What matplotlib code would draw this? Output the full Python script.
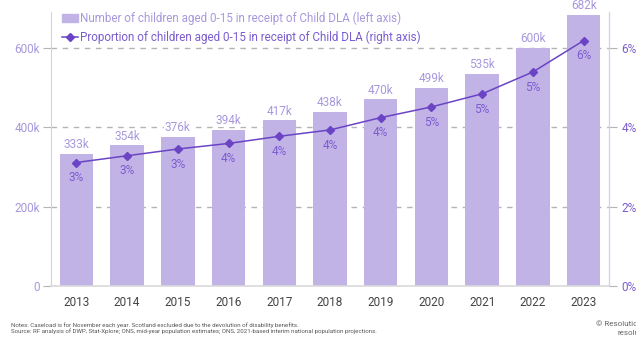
import matplotlib
matplotlib.use("Agg")
import matplotlib.pyplot as plt
from matplotlib.lines import Line2D
from matplotlib.patches import Patch
import numpy as np

plt.rcParams['font.family'] = ['Roboto', 'DejaVu Sans']

years = ['2013', '2014', '2015', '2016', '2017', '2018', '2019', '2020', '2021', '2022', '2023']
children = [333, 354, 376, 394, 417, 438, 470, 499, 535, 600, 682]  # thousands
proportion = [3.11, 3.28, 3.45, 3.59, 3.77, 3.93, 4.24, 4.51, 4.84, 5.39, 6.18]  # percent
left_ticks = [0, 200, 400, 600]
left_ticklabels = ['0', '200k', '400k', '600k']
right_ticks = [0, 2, 4, 6]
right_ticklabels = ['0%', '2%', '4%', '6%']

bar_col = '#c1b3e6'
line_col = '#6a44c4'
light_txt = '#a898dd'
dark_txt = '#7a5cd0'
spine_col = '#d6cdf0'

fig = plt.figure(figsize=(6.36, 3.4), dpi=100)
ax = fig.add_axes([51 / 636, 1 - 286 / 340, (609 - 51) / 636, (286 - 12) / 340])
x = np.arange(len(years))

ax.bar(x, children, width=0.66, color=bar_col, zorder=2)
ax.set_xlim(-0.5, 10.5)
ax.set_ylim(0, 690)
ax.set_yticks(left_ticks)
ax.set_yticklabels(left_ticklabels)
ax.set_xticks(x)
ax.set_xticklabels(years)
for v in left_ticks[1:]:
    ax.axhline(v, color='#b4b4b4', lw=1.0, ls=(0, (4, 4)), zorder=1, clip_on=False)

ax.tick_params(axis='y', length=6, color='#b4b4b4', labelcolor=light_txt, labelsize=8.5, pad=2)
ax.tick_params(axis='x', length=0, labelcolor='#444444', labelsize=8.5, pad=7)
ax.spines['top'].set_visible(False)
ax.spines['left'].set_color(spine_col)
ax.spines['right'].set_color(spine_col)
ax.spines['bottom'].set_color('#d9d9d9')
ax.spines['bottom'].set_linewidth(1.2)

for xi, v in zip(x, children):
    ax.text(xi, v + 7, f'{v}k', ha='center', va='bottom', color=light_txt, fontsize=8.5, zorder=4,
            bbox=dict(facecolor='white', edgecolor='none', pad=0.3))

ax2 = ax.twinx()
ax2.set_ylim(0, 6.9)
ax2.plot(x, proportion, color=line_col, lw=1.1, marker='D', ms=4, zorder=5)
ax2.set_yticks(right_ticks)
ax2.set_yticklabels(right_ticklabels)
ax2.tick_params(axis='y', length=6, color='#b4b4b4', labelcolor=dark_txt, labelsize=8.5, pad=3)
for s in ['top', 'bottom', 'left']:
    ax2.spines[s].set_visible(False)
ax2.spines['right'].set_color(spine_col)
for xi, p in zip(x, proportion):
    ax2.text(xi, p - 0.22, f'{p:.0f}%', ha='center', va='top', color=dark_txt, fontsize=8.5)

handles = [Patch(color=bar_col),
           Line2D([], [], color=line_col, lw=1.1, marker='D', ms=4)]
labels = ['Number of children aged 0-15 in receipt of Child DLA (left axis)',
          'Proportion of children aged 0-15 in receipt of Child DLA (right axis)']
leg = fig.legend(handles, labels, loc='upper left', bbox_to_anchor=(57 / 636, 1 - 7 / 340),
                 frameon=False, fontsize=8.4, handlelength=1.4, handletextpad=0.15,
                 labelspacing=0.45, borderaxespad=0)
leg.get_texts()[0].set_color(light_txt)
leg.get_texts()[1].set_color(dark_txt)

fig.text(11 / 636, 1 - 325 / 340,
         'Notes: Caseload is for November each year. Scotland excluded due to the devolution of disability benefits.',
         fontsize=4.4, color='#555555', va='center')
fig.text(11 / 636, 1 - 331.5 / 340,
         'Source: RF analysis of DWP, Stat-Xplore; ONS, mid-year population estimates; ONS, 2021-based interim national population projections.',
         fontsize=4.4, color='#555555', va='center')
fig.text(596 / 636, 1 - 324 / 340, '\u00a9 Resolution Foundation', fontsize=5.8, color='#666666', va='center')
fig.text(617 / 636, 1 - 333 / 340, 'resolutionfoundation.org', fontsize=5.8, color='#666666', va='center')

fig.savefig('out.png', dpi=100)
